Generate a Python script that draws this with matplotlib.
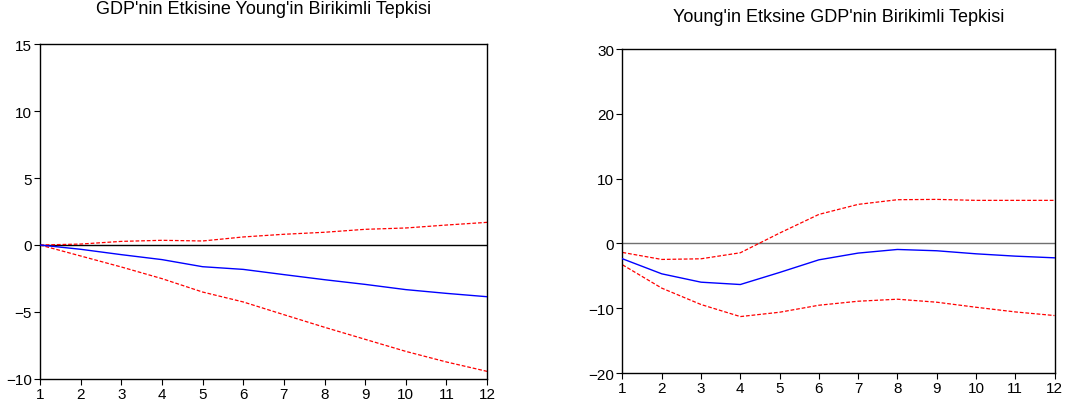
import matplotlib
matplotlib.use("Agg")
import matplotlib.pyplot as plt

plt.rcParams['font.family'] = ['Liberation Sans', 'DejaVu Sans']

periods = list(range(1, 13))

# Accumulated response of Young to GDP shock
left_title = "GDP'nin Etkisine Young'in Birikimli Tepkisi"
left_resp = [0.0, -0.32, -0.72, -1.09, -1.62, -1.82, -2.21, -2.59, -2.94, -3.33, -3.61, -3.86]
left_upper = [0.0, 0.07, 0.27, 0.35, 0.30, 0.60, 0.80, 0.95, 1.17, 1.27, 1.49, 1.69]
left_lower = [0.0, -0.82, -1.64, -2.51, -3.51, -4.25, -5.20, -6.14, -7.04, -7.94, -8.73, -9.43]
left_yticks = [-10, -5, 0, 5, 10, 15]

# Accumulated response of GDP to Young shock
right_title = "Young'in Etksine GDP'nin Birikimli Tepkisi"
right_resp = [-2.37, -4.69, -5.98, -6.34, -4.48, -2.53, -1.49, -0.93, -1.13, -1.60, -1.96, -2.22]
right_upper = [-1.39, -2.47, -2.37, -1.44, 1.60, 4.48, 6.03, 6.75, 6.80, 6.65, 6.65, 6.65]
right_lower = [-3.30, -6.90, -9.43, -11.29, -10.62, -9.54, -8.92, -8.61, -9.07, -9.85, -10.57, -11.13]
right_yticks = [-20, -10, 0, 10, 20, 30]

fig = plt.figure(figsize=(10.67, 4.10), dpi=100)
ax1 = fig.add_axes([0.0375, 0.0732, 0.419, 0.817])
ax2 = fig.add_axes([0.5834, 0.0878, 0.4049, 0.790])


def draw(ax, title, resp, upper, lower, yticks, zero_color, title_y):
    ax.axhline(0, color=zero_color, lw=1.0, zorder=1)
    ax.plot(periods, resp, color='#0000ff', lw=1.0, zorder=3)
    ax.plot(periods, upper, color='#ff0000', lw=0.9, ls=(0, (3, 1.5)), zorder=2)
    ax.plot(periods, lower, color='#ff0000', lw=0.9, ls=(0, (3, 1.5)), zorder=2)
    ax.set_xlim(1, 12)
    ax.set_ylim(yticks[0], yticks[-1])
    ax.set_xticks(periods)
    ax.set_yticks(yticks)
    ax.tick_params(direction='out', length=4, width=0.8, labelsize=11, pad=2)
    for s in ax.spines.values():
        s.set_linewidth(1.0)
    pos = ax.get_position()
    fig.text((pos.x0 + pos.x1) / 2, title_y, title,
             ha='center', va='center', fontsize=13)


draw(ax1, left_title, left_resp, left_upper, left_lower, left_yticks, 'black', 1 - 9 / 410)
draw(ax2, right_title, right_resp, right_upper, right_lower, right_yticks, '#707070', 1 - 17 / 410)

fig.savefig('out.png', dpi=100)
